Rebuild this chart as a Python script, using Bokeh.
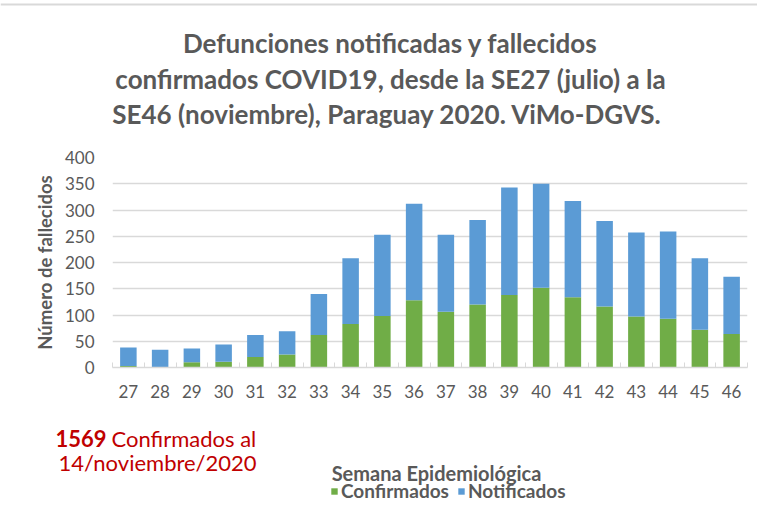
from bokeh.plotting import figure
from bokeh.models import Range1d, FixedTicker, Label, Legend, LegendItem, ColumnDataSource, Span
from bokeh.embed import file_html
from bokeh.resources import INLINE

weeks = [27, 28, 29, 30, 31, 32, 33, 34, 35, 36, 37, 38, 39, 40, 41, 42, 43, 44, 45, 46]
confirmados = [3, 0, 10, 11, 20, 25, 62, 83, 98, 128, 106, 120, 138, 152, 134, 116, 97, 93, 72, 64]
notificados = [35, 34, 26, 33, 42, 44, 78, 125, 155, 184, 147, 161, 205, 198, 183, 163, 160, 166, 136, 109]
series_names = ["Confirmados", "Notificados"]
series_colors = ["#70AD47", "#5B9BD5"]
y_ticks = [0, 50, 100, 150, 200, 250, 300, 350, 400]
title_lines = [
    "Defunciones notificadas y fallecidos",
    "confirmados COVID19, desde la SE27 (julio) a la",
    "SE46 (noviembre), Paraguay  2020. ViMo-DGVS.",
]
note_bold = "1569"
note_line1 = "Confirmados al"
note_line2 = "14/noviembre/2020"
x_title = "Semana Epidemiológica"
y_title = "Número de fallecidos"

FONT = "Lato"
GRAY = "#595959"
RED = "#C00000"
W = 757


def blank(height):
    f = figure(width=W, height=height, output_backend="svg", toolbar_location=None,
               x_range=Range1d(0, W), y_range=Range1d(height, 0),
               x_axis_type=None, y_axis_type=None, min_border=0)
    f.outline_line_color = None
    f.grid.visible = False
    return f


# ---- top: title ----
top = blank(140)
top.add_layout(Span(location=4, dimension="width", line_color="#D9D9D9", line_width=2))
for line, y in zip(title_lines, [42, 78, 113]):
    top.add_layout(Label(x=390, y=y, text=line, text_font=FONT, text_font_style="bold",
                         text_font_size="26px", text_color=GRAY,
                         text_align="center", text_baseline="middle"))

# ---- main chart ----
src = ColumnDataSource(dict(x=weeks, Confirmados=confirmados, Notificados=notificados))
p = figure(width=W, height=270, output_backend="svg", toolbar_location=None,
           x_range=Range1d(weeks[0] - 0.5, weeks[-1] + 0.5), y_range=Range1d(0, 400),
           min_border_left=112, min_border_right=10, min_border_top=17, min_border_bottom=43)
p.outline_line_color = None
rs = p.vbar_stack(series_names, x="x", width=0.52, source=src, color=series_colors, line_color=None)

p.xaxis.ticker = FixedTicker(ticks=weeks, minor_ticks=[w - 0.5 for w in weeks] + [weeks[-1] + 0.5])
p.xaxis.axis_line_color = "#D9D9D9"
p.xaxis.axis_line_width = 1.5
p.xaxis.major_tick_line_color = None
p.xaxis.minor_tick_line_color = "#D9D9D9"
p.xaxis.minor_tick_in = 5
p.xaxis.minor_tick_out = 0
p.xaxis.major_label_text_font = FONT
p.xaxis.major_label_text_font_size = "17px"
p.xaxis.major_label_text_color = GRAY
p.xaxis.major_label_standoff = 11

p.yaxis.ticker = FixedTicker(ticks=y_ticks)
p.yaxis.axis_line_color = None
p.yaxis.major_tick_line_color = None
p.yaxis.minor_tick_line_color = None
p.yaxis.major_label_text_font = FONT
p.yaxis.major_label_text_font_size = "17px"
p.yaxis.major_label_text_color = GRAY
p.yaxis.major_label_standoff = 12
p.yaxis.axis_label = y_title
p.yaxis.axis_label_text_font = FONT
p.yaxis.axis_label_text_font_style = "bold"
p.yaxis.axis_label_text_font_size = "18.5px"
p.yaxis.axis_label_text_color = GRAY
p.yaxis.axis_label_standoff = 6

p.xgrid.grid_line_color = None
p.ygrid.grid_line_color = "#D9D9D9"
p.ygrid.grid_line_width = 1.5

# ---- bottom: note, x title, legend ----
bot = blank(98)
bot.add_layout(Label(x=55, y=28, text=note_bold, text_font=FONT, text_font_style="bold",
                     text_font_size="22px", text_color=RED, text_baseline="middle"))
bot.add_layout(Label(x=111, y=28, text=note_line1, text_font=FONT,
                     text_font_size="22px", text_color=RED, text_baseline="middle"))
bot.add_layout(Label(x=58, y=52, text=note_line2, text_font=FONT,
                     text_font_size="22px", text_color=RED, text_baseline="middle"))
bot.add_layout(Label(x=436, y=62, text=x_title, text_font=FONT, text_font_style="bold",
                     text_font_size="20px", text_color=GRAY,
                     text_align="center", text_baseline="middle"))
# legend swatches: zero-height bars kept outside the visible range
swatches = [bot.vbar(x=[-100], top=[0], width=1, color=c, line_color=None) for c in series_colors]
legend = Legend(items=[LegendItem(label=n, renderers=[r]) for n, r in zip(series_names, swatches)],
                location=(330, 6), orientation="horizontal",
                glyph_width=8, glyph_height=8, label_standoff=3, spacing=8,
                padding=0, margin=0, border_line_color=None, background_fill_alpha=0,
                label_text_font=FONT, label_text_font_style="bold", label_text_font_size="19px",
                label_text_color=GRAY)
bot.add_layout(legend)

open("out.html", "w").write(file_html([top, p, bot], INLINE))
